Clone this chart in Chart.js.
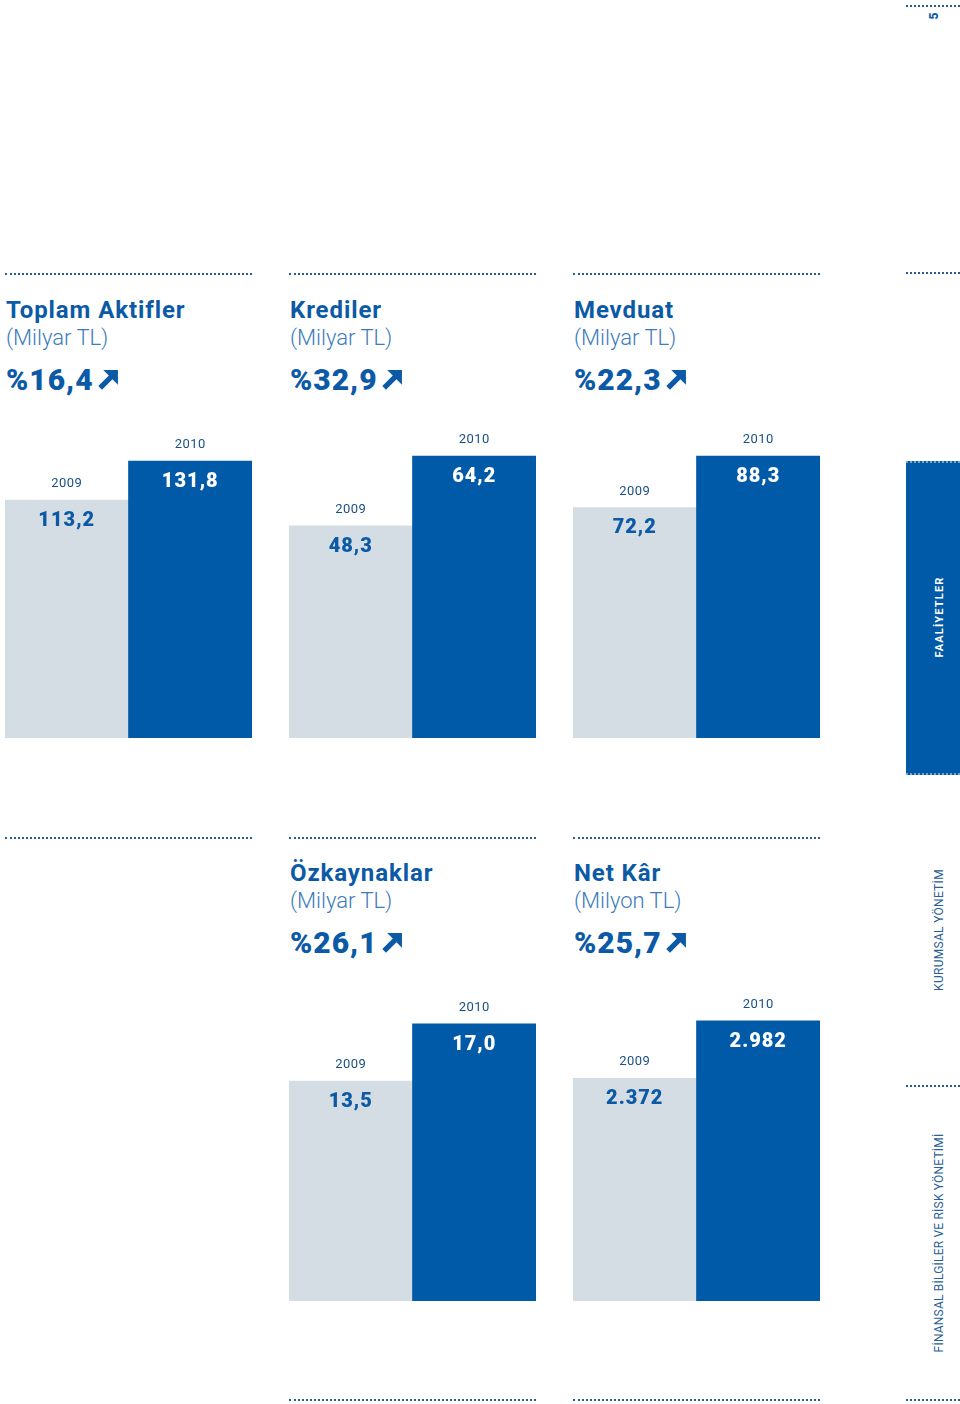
<!DOCTYPE html>
<html lang="tr">
<head>
<meta charset="utf-8">
<title>Faaliyetler - 2010</title>
<script src="https://cdn.jsdelivr.net/npm/chart.js@4.4.0/dist/chart.umd.min.js"></script>
<style>
    body { margin: 0; background: #fff; font-family: "Roboto", "Open Sans", sans-serif; }
    #page { position: relative; width: 960px; height: 1404px; overflow: hidden; }
    .dots { position: absolute; height: 0; border-top: 2px dotted #2d5b8c; }
    .head { position: absolute; width: 260px; color: #0c5aa6; }
    .head .t { font-size: 24px; font-weight: 700; line-height: 28px; letter-spacing: 0.9px; }
    .head .u { font-size: 22px; font-weight: 300; line-height: 28px; color: #3d7bbd; }
    .head .p { font-size: 30px; font-weight: 900; line-height: 32px; margin-top: 12px; letter-spacing: 1px; }
    .head .p svg { vertical-align: -1px; margin-left: 3px; }
    .box { position: absolute; }
    .vtext { position: absolute; white-space: nowrap; transform: translate(-50%, -50%) rotate(-90deg); }
    #side { position: absolute; left: 906px; top: 461px; width: 54px; height: 314px; background: #005aa8;
            border-top: 2px dotted #7ea3c9; border-bottom: 2px dotted #7ea3c9; box-sizing: border-box; }
</style>
</head>
<body>
<div id="page"></div>
<script>
// ---- veriler ----
const years = ['2009', '2010'];
const titles = ['Toplam Aktifler', 'Krediler', 'Mevduat', 'Özkaynaklar', 'Net Kâr'];
const units = ['(Milyar TL)', '(Milyar TL)', '(Milyar TL)', '(Milyar TL)', '(Milyon TL)'];
const growth = ['%16,4', '%32,9', '%22,3', '%26,1', '%25,7'];
const values2009 = [113.2, 48.3, 72.2, 13.5, 2372];
const values2010 = [131.8, 64.2, 88.3, 17.0, 2982];
const decimals = [1, 1, 1, 1, 0];
const scaleMax = [151.3, 72.4, 99.6, 19.45, 3375];

const BLUE = '#005aa8';
const GREY = '#d5dde4';
const page = document.getElementById('page');

// panel yerleşimi: [sütun, satır]
const colLeft = [5, 289, 573];
const panels = [[0, 0], [1, 0], [2, 0], [1, 1], [2, 1]];
const rowDots = [273, 837];
const rowTitle = [296, 859];
const rowChart = [{ top: 420, h: 318 }, { top: 984, h: 317 }];

function fmt(v, d) {
    let s = v.toFixed(d);
    let [i, f] = s.split('.');
    i = i.replace(/\B(?=(\d{3})+(?!\d))/g, '.');
    return f ? i + ',' + f : i;
}

function addDots(x, y, w) {
    const d = document.createElement('div');
    d.className = 'dots';
    d.style.left = x + 'px';
    d.style.top = y + 'px';
    d.style.width = w + 'px';
    page.appendChild(d);
}

const arrowSvg = '<svg width="23" height="23" viewBox="0 0 22 22"><path d="M3 19 L15 7" stroke="#0c5aa6" stroke-width="5" fill="none"/><path d="M6 2 H20 V16 Z" fill="#0c5aa6"/></svg>';

// bar üstü / içi etiketler
const barLabels = {
    id: 'barLabels',
    afterDatasetsDraw(chart) {
        const ctx = chart.ctx;
        const meta = chart.getDatasetMeta(0);
        const d = chart.options.plugins.barLabels;
        ctx.save();
        ctx.textAlign = 'center';
        ctx.textBaseline = 'middle';
        meta.data.forEach((bar, i) => {
            ctx.letterSpacing = '0.5px';
            ctx.font = '400 13px Roboto';
            ctx.fillStyle = '#1b4f86';
            ctx.fillText(years[i], bar.x, bar.y - 16);
            ctx.letterSpacing = '1px';
            ctx.font = '900 20px Roboto';
            ctx.fillStyle = i === 0 ? '#0c5aa6' : '#ffffff';
            ctx.fillText(d.texts[i], bar.x, bar.y + 21);
        });
        ctx.restore();
    }
};

panels.forEach(([col, row], k) => {
    const x = colLeft[col];
    addDots(x, rowDots[row], 247);

    const head = document.createElement('div');
    head.className = 'head';
    head.style.left = (x + 1) + 'px';
    head.style.top = rowTitle[row] + 'px';
    head.innerHTML = `<div class="t">${titles[k]}</div><div class="u">${units[k]}</div><div class="p">${growth[k]}${arrowSvg}</div>`;
    page.appendChild(head);

    const box = document.createElement('div');
    box.className = 'box';
    box.style.left = x + 'px';
    box.style.top = rowChart[row].top + 'px';
    box.style.width = '247px';
    box.style.height = rowChart[row].h + 'px';
    const cv = document.createElement('canvas');
    box.appendChild(cv);
    page.appendChild(box);

    new Chart(cv.getContext('2d'), {
        type: 'bar',
        data: {
            labels: years,
            datasets: [{
                data: [values2009[k], values2010[k]],
                backgroundColor: [GREY, BLUE],
                borderWidth: 0,
                categoryPercentage: 1,
                barPercentage: 1
            }]
        },
        options: {
            responsive: true,
            maintainAspectRatio: false,
            animation: false,
            layout: { padding: 0 },
            scales: {
                x: { display: false },
                y: { display: false, min: 0, max: scaleMax[k] }
            },
            plugins: {
                legend: { display: false },
                tooltip: { enabled: false },
                barLabels: { texts: [fmt(values2009[k], decimals[k]), fmt(values2010[k], decimals[k])] }
            }
        },
        plugins: [barLabels]
    });
});

// boş ilk sütun, alt satır
addDots(5, 837, 247);
// alt çizgiler
addDots(289, 1399, 247);
addDots(573, 1399, 247);

// sağ kenar menüsü
addDots(906, 5, 54);
addDots(906, 272, 54);
addDots(906, 1085, 54);
addDots(906, 1399, 54);

const side = document.createElement('div');
side.id = 'side';
page.appendChild(side);

function addVText(txt, cx, cy, css) {
    const el = document.createElement('div');
    el.className = 'vtext';
    el.textContent = txt;
    el.style.left = cx + 'px';
    el.style.top = cy + 'px';
    el.style.cssText += css;
    page.appendChild(el);
}
addVText('5', 934, 16, 'font: 900 12px Roboto; color:#0c5aa6;');
addVText('FAALİYETLER', 939, 617, 'font: 700 11px Roboto; color:#fff; letter-spacing:1.2px;');
addVText('KURUMSAL YÖNETİM', 939, 930, 'font: 400 12px Roboto; color:#2b5f95; letter-spacing:0.3px;');
addVText('FİNANSAL BİLGİLER VE RİSK YÖNETİMİ', 939, 1243, 'font: 400 12px Roboto; color:#2b5f95; letter-spacing:0.2px;');
</script>
</body>
</html>
